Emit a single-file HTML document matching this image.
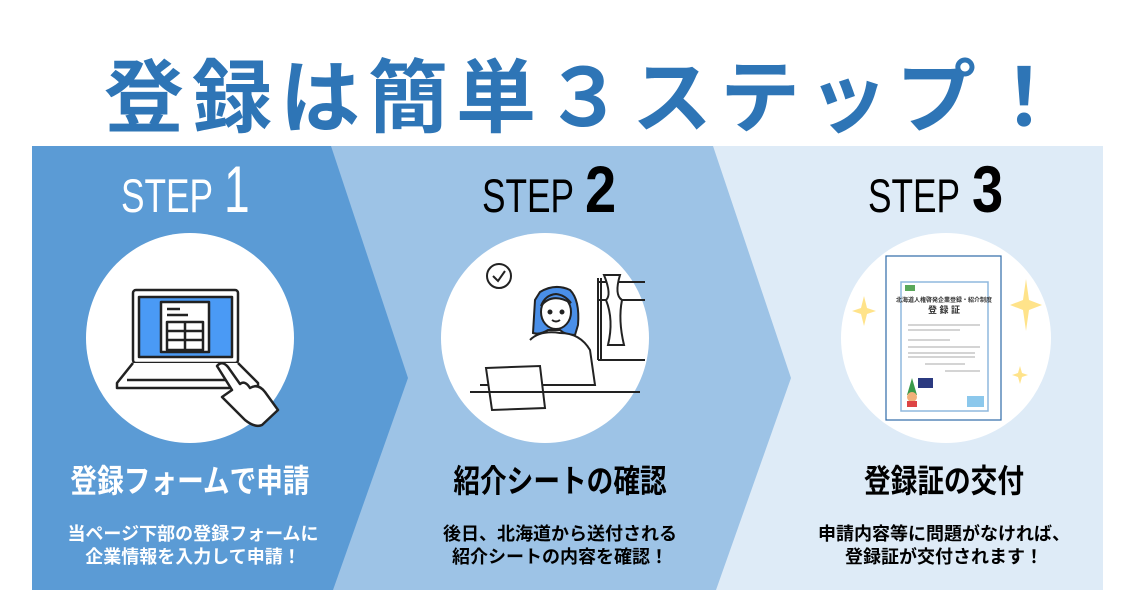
<!DOCTYPE html>
<html><head><meta charset="utf-8"><style>
html,body{margin:0;padding:0;background:#fff;}
svg{display:block;}
text{font-family:"Liberation Sans","Noto Sans CJK JP",sans-serif;font-weight:bold;}
</style></head><body>
<svg width="1134" height="605" viewBox="0 0 1134 605" xmlns="http://www.w3.org/2000/svg">
<rect width="1134" height="605" fill="#fff"/>
<text x="588" y="126" text-anchor="middle" font-size="80" fill="#2e75b6" letter-spacing="8">登録は簡単３ステップ！</text>
<rect x="32" y="146" width="1071" height="444" fill="#deebf7"/>
<polygon points="32,146 713,146 791,378 716,590 32,590" fill="#9dc3e6"/>
<polygon points="32,146 331,146 408,378 333,590 32,590" fill="#5b9bd5"/>
<g transform="translate(121,212) scale(0.75,1)"><text x="0" y="0" font-size="47" fill="#fff" style="font-weight:normal">STEP</text></g>
<g transform="translate(224,212) scale(0.7,1)"><text x="0" y="0" font-size="66" fill="#fff" style="font-weight:normal">1</text></g>
<g transform="translate(482,212) scale(0.75,1)"><text x="0" y="0" font-size="47" fill="#000" style="font-weight:normal">STEP</text></g>
<g transform="translate(585,212) scale(0.85,1)"><text x="0" y="0" font-size="66" fill="#000">2</text></g>
<g transform="translate(868,212) scale(0.75,1)"><text x="0" y="0" font-size="47" fill="#000" style="font-weight:normal">STEP</text></g>
<g transform="translate(972,212) scale(0.85,1)"><text x="0" y="0" font-size="66" fill="#000">3</text></g>
<ellipse cx="190" cy="338" rx="104" ry="105" fill="#fff"/>
<ellipse cx="545" cy="338" rx="104" ry="105" fill="#fff"/>
<ellipse cx="946" cy="338" rx="105" ry="105" fill="#fff"/>
<g stroke="#222" stroke-width="2.5" fill="none" stroke-linejoin="round">
<rect x="133" y="290" width="105" height="73" rx="3" fill="#fff"/>
<rect x="139" y="297" width="93" height="60" fill="#4a9af5"/>
<rect x="161" y="302" width="48" height="50" fill="#fff"/>
<line x1="167" y1="309" x2="180" y2="309"/><line x1="167" y1="315" x2="188" y2="315"/>
<rect x="167" y="322" width="36" height="28"/>
<line x1="167" y1="331" x2="203" y2="331"/><line x1="167" y1="340" x2="203" y2="340"/><line x1="185" y1="322" x2="185" y2="350"/>
<path d="M133 363 L117 383 L117 388 L258 388 L258 383 L238 363" fill="#fff"/>
<line x1="127" y1="380" x2="235" y2="380"/>
<path d="M222 397 L245 420 Q255 428 262 425 L278 410 L265 392 Q258 383 250 388 Q245 380 240 384 L228 367 Q222 360 217 366 L232 390 Z" fill="#fff"/>
</g>
<g stroke="#222" stroke-width="2" fill="none">
<circle cx="499" cy="276" r="12" fill="#fff"/><path d="M493 276 L498 281 L505 271"/>
<path d="M598 278 L598 360 M601 278 L601 360 M598 282 L645 282 M598 300 L645 300 M598 360 L645 360"/>
<path d="M604 275 Q612 295 606 300 Q614 320 608 345 L624 345 Q618 320 622 300 Q614 295 620 275 Z" fill="#fff"/>
<path d="M540 292 Q555 283 570 290 Q580 300 578 325 L575 335 Q565 335 560 330 L548 330 Q540 335 533 333 L535 300 Z" fill="#4a8fe8"/>
<ellipse cx="556" cy="312" rx="15" ry="17" fill="#fff"/>
<path d="M541 306 Q552 292 571 303 Q565 295 556 294 Q545 295 541 306 Z" fill="#4a8fe8"/>
<circle cx="550" cy="312" r="1.5" fill="#222"/><circle cx="562" cy="312" r="1.5" fill="#222"/>
<path d="M552 320 Q556 323 560 320"/>
<path d="M530 340 Q540 330 560 333 Q580 333 590 350 L595 385 L480 385" fill="#fff"/>
<path d="M486 368 L540 366 L545 408 L492 410 Z" fill="#fff"/>
<line x1="470" y1="392" x2="640" y2="392"/>
</g>
<rect x="886" y="256" width="115" height="164" fill="#fff" stroke="#2e6aa8" stroke-width="1.2"/>
<rect x="901" y="282" width="87" height="129" fill="#fff" stroke="#8fb8de" stroke-width="1.5"/>
<rect x="905" y="285" width="10" height="6" fill="#5aa85a"/>
<text x="944" y="302" text-anchor="middle" font-size="6" fill="#333">北海道人権啓発企業登録・紹介制度</text>
<text x="944" y="313" text-anchor="middle" font-size="9" fill="#333">登 録 証</text>
<g stroke="#aaa" stroke-width="1"><line x1="908" y1="325" x2="980" y2="325"/><line x1="908" y1="330" x2="960" y2="330"/><line x1="908" y1="340" x2="950" y2="340"/><line x1="908" y1="347" x2="980" y2="347"/><line x1="908" y1="353" x2="975" y2="353"/><line x1="908" y1="357" x2="975" y2="357"/><line x1="925" y1="364" x2="965" y2="364"/><line x1="945" y1="371" x2="980" y2="371"/></g>
<path d="M907 395 L912 378 L917 395 Z" fill="#3a9a4a"/><circle cx="912" cy="397" r="5" fill="#f2b07a"/><rect x="907" y="401" width="10" height="6" fill="#d44"/>
<rect x="918" y="378" width="15" height="10" fill="#2b3a80"/>
<rect x="967" y="396" width="17" height="11" fill="#8cc8ec"/>
<g fill="#ffe38a">
<path d="M864 296 L867 308 L876 311 L867 314 L864 326 L861 314 L852 311 L861 308 Z"/>
<path d="M1026 279 L1029 300 L1042 305 L1029 310 L1026 331 L1023 310 L1010 305 L1023 300 Z"/>
<path d="M1020 366 L1022 373 L1028 375 L1022 377 L1020 384 L1018 377 L1012 375 L1018 373 Z"/>
</g>
<g transform="translate(190,492) scale(0.92,1.1)"><text x="0" y="0" text-anchor="middle" font-size="29" fill="#fff">登録フォームで申請</text></g>
<g transform="translate(560,492) scale(0.92,1.1)"><text x="0" y="0" text-anchor="middle" font-size="29" fill="#000">紹介シートの確認</text></g>
<g transform="translate(944,492) scale(0.92,1.1)"><text x="0" y="0" text-anchor="middle" font-size="29" fill="#000">登録証の交付</text></g>
<text x="193" y="540" text-anchor="middle" fill="#fff" font-size="18">当ページ下部の登録フォームに</text>
<text x="193" y="563" text-anchor="middle" fill="#fff" font-size="18">企業情報を入力して申請！</text>
<text x="560" y="540" text-anchor="middle" fill="#000" font-size="18">後日、北海道から送付される</text>
<text x="560" y="563" text-anchor="middle" fill="#000" font-size="18">紹介シートの内容を確認！</text>
<text x="944" y="540" text-anchor="middle" fill="#000" font-size="18">申請内容等に問題がなければ、</text>
<text x="944" y="563" text-anchor="middle" fill="#000" font-size="18">登録証が交付されます！</text>
</svg>
</body></html>
